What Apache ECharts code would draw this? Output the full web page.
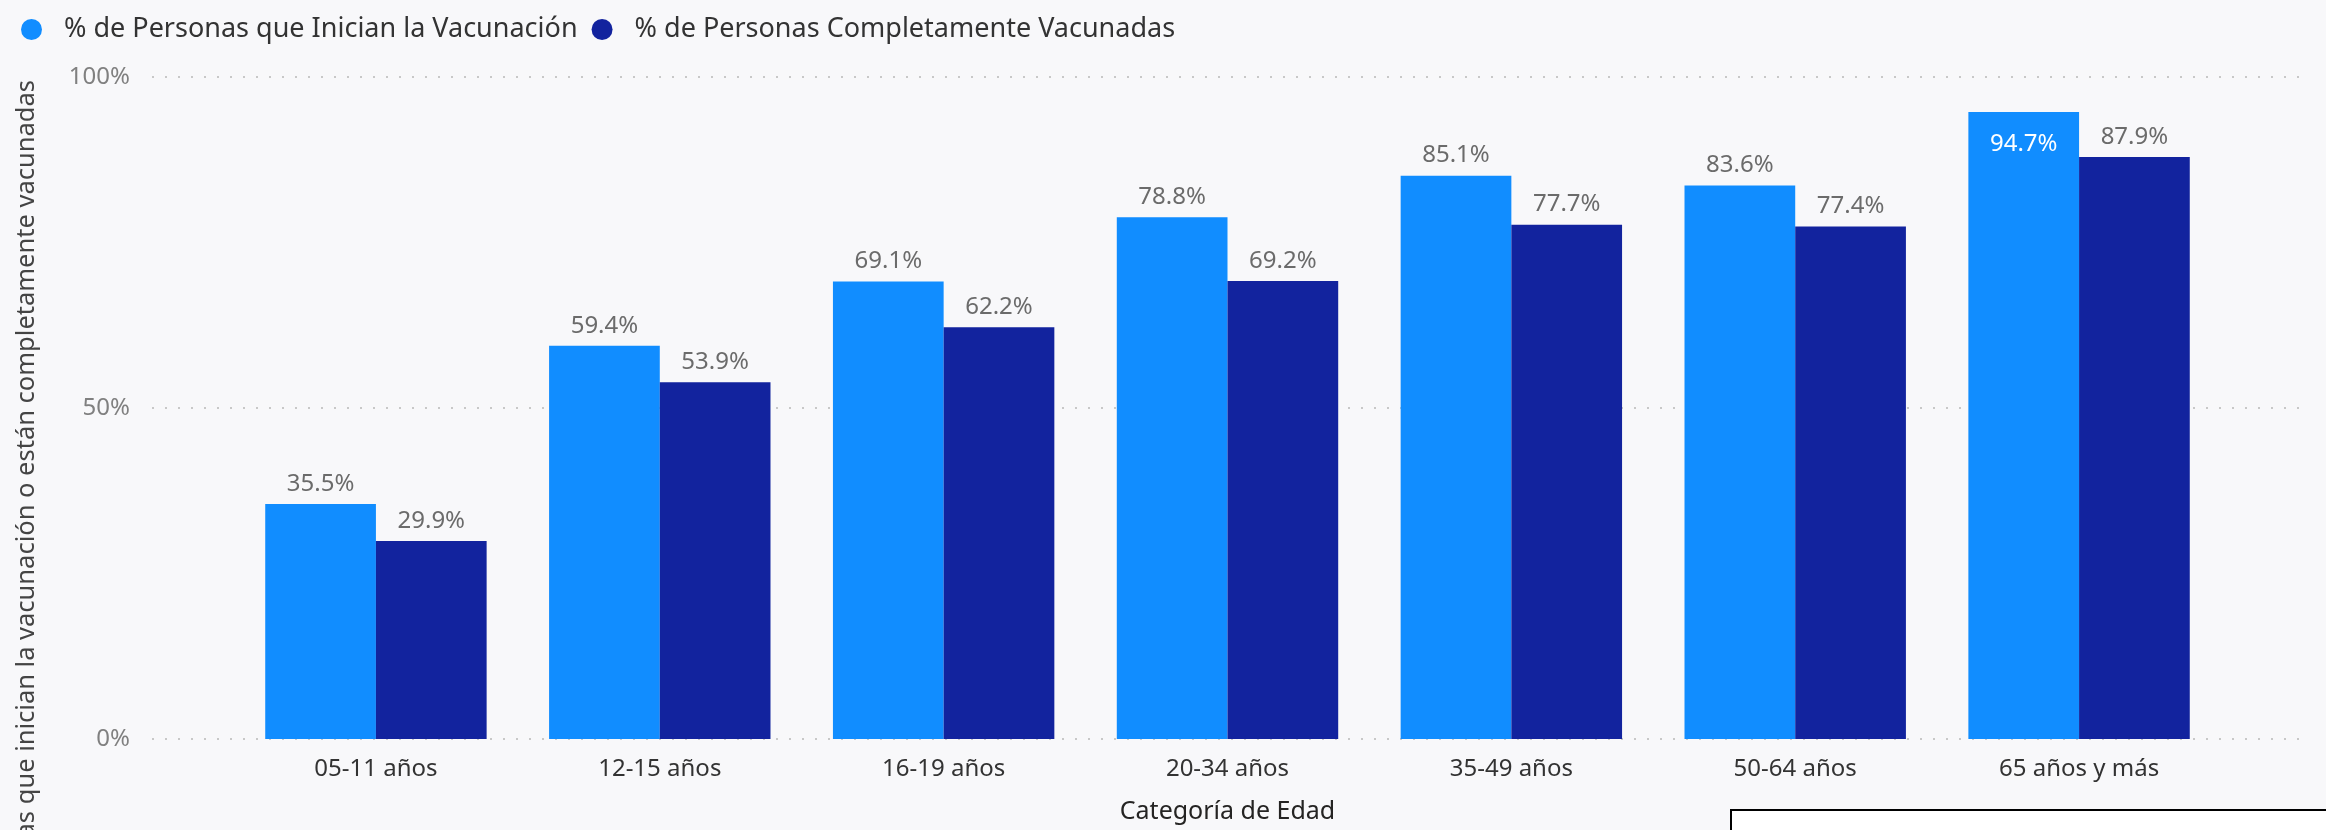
<!DOCTYPE html>
<html>
<head>
<meta charset="utf-8">
<script src="https://cdn.jsdelivr.net/npm/echarts@6/dist/echarts.min.js"></script>
<style>
html,body{margin:0;padding:0;background:#f8f8fa;}
#chart{width:2326px;height:830px;}
</style>
</head>
<body>
<div id="chart"></div>
<script>
const categories = ['05-11 años','12-15 años','16-19 años','20-34 años','35-49 años','50-64 años','65 años y más'];
const seriesNames = ['% de Personas que Inician la Vacunación','% de Personas Completamente Vacunadas'];
const inician = [35.5, 59.4, 69.1, 78.8, 85.1, 83.6, 94.7];
const completas = [29.9, 53.9, 62.2, 69.2, 77.7, 77.4, 87.9];
const yTicks = [0, 50, 100];
const xTitle = 'Categoría de Edad';
const yTitle = '% de Personas que inician la vacunación o están completamente vacunadas';

const FONT = 'Noto Sans';
const chart = echarts.init(document.getElementById('chart'), null, {renderer:'canvas'});

const labelTop = {
  show: true, position: 'top', distance: 8,
  formatter: p => p.value.toFixed(1) + '%',
  color: '#6b6b6b', fontFamily: FONT, fontSize: 24
};

chart.setOption({
  backgroundColor: '#f8f8fa',
  animation: false,
  textStyle: {fontFamily: FONT},
  legend: {
    left: 16, top: 11, icon: 'circle', itemWidth: 21, itemHeight: 21, itemGap: 14,
    textStyle: {fontFamily: FONT, fontSize: 27, color: '#333', padding: [0,0,0,17]},
    data: seriesNames
  },
  grid: [
    {left: 152, right: 21, top: 77, bottom: 91},
    {left: 234, right: 105, top: 77, bottom: 91}
  ],
  xAxis: [
    {gridIndex: 0, type: 'category', data: categories, show: false},
    {gridIndex: 1, type: 'category', data: categories,
     axisLine: {show: false}, axisTick: {show: false},
     axisLabel: {margin: 18, color: '#333', fontFamily: FONT, fontSize: 24},
     name: xTitle, nameLocation: 'middle', nameGap: 60,
     nameTextStyle: {color: '#252423', fontFamily: FONT, fontSize: 25}
    }
  ],
  yAxis: [
    {gridIndex: 0, type: 'value', min: yTicks[0], max: yTicks[yTicks.length-1], interval: 50,
     axisLine: {show: false}, axisTick: {show: false},
     axisLabel: {formatter: '{value}%', margin: 22, color: '#808080', fontFamily: FONT, fontSize: 24},
     splitLine: {show: true, lineStyle: {color: '#c8c8c8', width: 2, type: [2, 11]}}
    },
    {gridIndex: 1, type: 'value', min: yTicks[0], max: yTicks[yTicks.length-1], interval: 50, show: false,
     splitLine: {show: false}}
  ],
  series: [
    {
      name: seriesNames[0], type: 'bar', xAxisIndex: 1, yAxisIndex: 1,
      data: inician.map((v, i) => i === inician.length - 1
        ? {value: v, label: {position: 'insideTop', distance: 20, color: '#ffffff'}}
        : v),
      itemStyle: {color: '#118DFF'},
      barGap: '0%', barCategoryGap: '22%',
      label: labelTop
    },
    {
      name: seriesNames[1], type: 'bar', xAxisIndex: 1, yAxisIndex: 1,
      data: completas,
      itemStyle: {color: '#12239E'},
      barGap: '0%', barCategoryGap: '22%',
      label: labelTop
    }
  ],
  graphic: [
    {type: 'text', x: 27, y: 80, rotation: Math.PI / 2,
     style: {text: yTitle, align: 'right', verticalAlign: 'middle', fill: '#444', font: '25.5px "Noto Sans"'}},
    {type: 'rect', shape: {x: 1731, y: 810, width: 700, height: 100},
     style: {fill: '#ffffff', stroke: '#000000', lineWidth: 2}}
  ]
});
</script>
</body>
</html>
